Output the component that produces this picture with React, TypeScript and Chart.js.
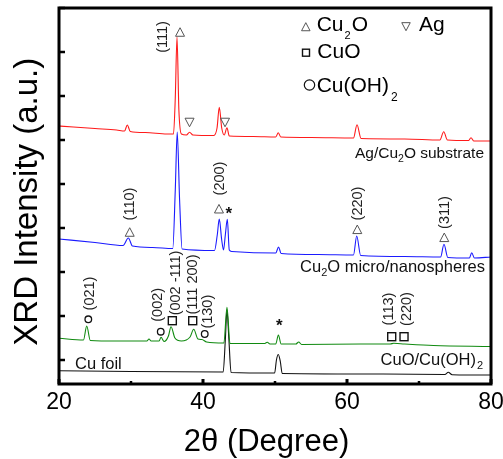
import React, { useEffect, useRef } from 'react';
import { Chart, registerables } from 'chart.js';

Chart.register(...registerables);

const FONT = "'Liberation Sans', Arial, Helvetica, sans-serif";

// ---------- data (2θ in degrees, intensity in arbitrary units) ----------
const agTheta = [20, 22, 25, 28, 29.1, 29.49, 29.9, 32, 35, 35.9, 36.15, 36.39, 36.65, 37.0, 37.7, 38.13, 38.6, 41.5, 41.95, 42.26, 42.6, 42.95, 43.33, 43.65, 47, 50.1, 50.46, 50.8, 55, 60.9, 61.39, 61.95, 68, 72.9, 73.43, 73.95, 76.9, 77.22, 77.6, 80];
const agCounts = [234, 233, 231.5, 230, 229, 235, 228.5, 227.5, 226, 226, 262, 323, 250, 226, 225, 227.7, 225, 224.5, 232, 252.7, 232, 225, 232.3, 224, 223.5, 223, 227.3, 223, 222.5, 222, 235.3, 221.5, 221, 220, 228.3, 220, 219.5, 222.3, 219, 219];

const cu2oTheta = [20, 25, 28.9, 29.63, 30.2, 33, 35.8, 36.15, 36.42, 36.75, 37.1, 41.6, 41.98, 42.26, 42.6, 42.85, 43.1, 43.38, 43.65, 44, 50.1, 50.5, 50.85, 56, 60.9, 61.35, 61.9, 68, 73.0, 73.47, 74.0, 77.0, 77.32, 77.7, 80];
const cu2oCounts = [121, 117.5, 114.5, 122, 114, 112.5, 111.5, 170, 228, 160, 111, 109.5, 125, 141, 120, 110, 125, 140.7, 110, 108.5, 107, 113, 106.5, 105.5, 105, 124, 104.5, 103.5, 103, 115.7, 102.5, 102, 107.3, 102, 103];

const cuoTheta = [20, 23.4, 23.85, 24.35, 28, 32.2, 32.5, 32.8, 33.9, 34.17, 34.6, 35.2, 35.56, 36.1, 37.0, 38.2, 38.71, 39.3, 39.85, 40.5, 42.9, 43.33, 43.75, 48.5, 48.93, 49.3, 50.1, 50.47, 50.85, 52.9, 53.29, 53.7, 61.9, 66, 66.5, 68, 72, 80];
const cuoCounts = [21.7, 20, 34, 19.5, 19, 19, 21, 19, 19, 22.7, 18.5, 24, 33.3, 22, 19, 23, 30.7, 21, 20.5, 18, 17, 52.7, 16.5, 16.5, 17.7, 16, 16, 25, 16, 16, 18, 15.5, 16, 16, 16.7, 16, 14.5, 13.5];

const foilTheta = [20, 30, 42.8, 43.1, 43.33, 43.6, 43.9, 49.95, 50.2, 50.46, 50.75, 51.0, 65, 73.6, 74.07, 74.6, 80];
const foilCounts = [-10.7, -11.5, -12, 20, 50, 20, -12.5, -13, 0, 5.5, -2, -13.5, -14, -14.5, -12.3, -14.7, -15];

// ---------- axes ----------
const xMin = 20;
const xMax = 80;
const xTickLabels = [20, 40, 60, 80];
const xMinorTicks = [30, 50, 70];
const yMin = -24;
const yMax = 352;
const yTickValues = [0, 44, 88, 132, 176, 220, 264, 308, 352];

// ---------- annotations (positioned in data coordinates) ----------
const peakLabels = [
  { text: '(111)', theta: 34.4, level: 323 },
  { text: '(110)', theta: 29.86, level: 156 },
  { text: '(200)', theta: 42.36, level: 181.5 },
  { text: '(220)', theta: 61.57, level: 156.5 },
  { text: '(311)', theta: 73.61, level: 147.5 },
  { text: '(021)', theta: 24.31, level: 66.5 },
  { text: '(002)', theta: 33.79, level: 55.2 },
  { text: '(002 -111)', theta: 36.25, level: 77 },
  { text: '(111 200)', theta: 38.65, level: 75.5 },
  { text: '(130)', theta: 40.74, level: 48.3 },
  { text: '(113)', theta: 65.88, level: 51 },
  { text: '(220)', theta: 68.38, level: 51 },
];
const phaseMarks = [
  { kind: 'up', theta: 36.81, level: 328 },
  { kind: 'down', theta: 38.13, level: 237.5 },
  { kind: 'down', theta: 43.06, level: 237.5 },
  { kind: 'up', theta: 29.82, level: 128 },
  { kind: 'up', theta: 42.22, level: 151.3 },
  { kind: 'star', theta: 43.57, level: 148.3 },
  { kind: 'up', theta: 61.43, level: 130.7 },
  { kind: 'up', theta: 73.51, level: 122.7 },
  { kind: 'circle', theta: 24.07, level: 40.7 },
  { kind: 'circle', theta: 34.13, level: 28.3 },
  { kind: 'square', theta: 35.74, level: 39.3 },
  { kind: 'square', theta: 38.57, level: 39.3 },
  { kind: 'circle', theta: 40.24, level: 26 },
  { kind: 'star', theta: 50.6, level: 36.7 },
  { kind: 'square', theta: 66.21, level: 23.3 },
  { kind: 'square', theta: 67.92, level: 23.3 },
];

type Part = { t: string; sub?: boolean };

function drawRich(ctx: CanvasRenderingContext2D, parts: Part[], x: number, y: number, size: number, subSize: number, subDrop: number, align: 'left' | 'right', gap = 0) {
  const fontFor = (p: Part) => `${p.sub ? subSize : size}px ${FONT}`;
  const widths = parts.map((p) => {
    ctx.font = fontFor(p);
    return ctx.measureText(p.t).width + (p.sub ? gap * 2 : 0);
  });
  const total = widths.reduce((a, b) => a + b, 0);
  let cx = align === 'left' ? x : x - total;
  ctx.textAlign = 'left';
  ctx.textBaseline = 'alphabetic';
  parts.forEach((p, i) => {
    ctx.font = fontFor(p);
    ctx.fillText(p.t, cx + (p.sub ? gap : 0), p.sub ? y + subDrop : y);
    cx += widths[i];
  });
}

function tri(ctx: CanvasRenderingContext2D, cx: number, cy: number, s: number, up: boolean) {
  const h = s * 0.95;
  ctx.beginPath();
  if (up) {
    ctx.moveTo(cx, cy - h / 2);
    ctx.lineTo(cx - s / 2, cy + h / 2);
    ctx.lineTo(cx + s / 2, cy + h / 2);
  } else {
    ctx.moveTo(cx, cy + h / 2);
    ctx.lineTo(cx - s / 2, cy - h / 2);
    ctx.lineTo(cx + s / 2, cy - h / 2);
  }
  ctx.closePath();
  ctx.stroke();
}

const annoPlugin = {
  id: 'xrdAnno',
  afterDatasetsDraw(chart: any) {
    const { ctx, chartArea: a, scales } = chart;
    const xs = scales.x;
    const ys = scales.y;
    ctx.save();

    // frame
    ctx.strokeStyle = '#000';
    ctx.lineWidth = 3;
    ctx.strokeRect(a.left, a.top, a.right - a.left, a.bottom - a.top);

    // inward ticks
    ctx.lineWidth = 2.5;
    ctx.beginPath();
    yTickValues.forEach((v) => {
      const py = ys.getPixelForValue(v);
      ctx.moveTo(a.left, py);
      ctx.lineTo(a.left + 6, py);
    });
    ctx.stroke();
    ctx.lineWidth = 3;
    ctx.beginPath();
    xTickLabels.forEach((v) => {
      const px = xs.getPixelForValue(v);
      ctx.moveTo(px, a.bottom);
      ctx.lineTo(px, a.bottom - 5);
    });
    ctx.stroke();
    ctx.lineWidth = 2.5;
    ctx.beginPath();
    xMinorTicks.forEach((v) => {
      const px = xs.getPixelForValue(v);
      ctx.moveTo(px, a.bottom);
      ctx.lineTo(px, a.bottom - 3);
    });
    ctx.stroke();

    // peak labels (rotated)
    ctx.fillStyle = '#222';
    ctx.font = `14.5px ${FONT}`;
    ctx.textAlign = 'center';
    ctx.textBaseline = 'middle';
    peakLabels.forEach((l) => {
      ctx.save();
      ctx.translate(xs.getPixelForValue(l.theta), ys.getPixelForValue(l.level));
      ctx.rotate(-Math.PI / 2);
      ctx.fillText(l.text, 0, 0);
      ctx.restore();
    });

    // phase markers
    phaseMarks.forEach((m) => {
      const px = xs.getPixelForValue(m.theta);
      const py = ys.getPixelForValue(m.level);
      if (m.kind === 'up' || m.kind === 'down') {
        ctx.strokeStyle = '#555';
        ctx.lineWidth = 1;
        tri(ctx, px, py, 9, m.kind === 'up');
      } else if (m.kind === 'square') {
        ctx.strokeStyle = '#111';
        ctx.lineWidth = 1.4;
        ctx.strokeRect(px - 4, py - 4, 8, 8);
      } else if (m.kind === 'circle') {
        ctx.strokeStyle = '#111';
        ctx.lineWidth = 1.3;
        ctx.beginPath();
        ctx.arc(px, py, 3.3, 0, Math.PI * 2);
        ctx.stroke();
      } else if (m.kind === 'star') {
        ctx.fillStyle = '#111';
        ctx.font = `bold 17px ${FONT}`;
        ctx.textAlign = 'center';
        ctx.textBaseline = 'middle';
        ctx.fillText('*', px, py + 3);
      }
    });

    // sample labels
    ctx.fillStyle = '#111';
    drawRich(ctx, [{ t: 'Ag/Cu' }, { t: '2', sub: true }, { t: 'O substrate' }], 484, 158, 15.5, 10.5, 4, 'right');
    drawRich(ctx, [{ t: 'Cu' }, { t: '2', sub: true }, { t: 'O micro/nanospheres' }], 485, 271.5, 16.5, 11, 4, 'right');
    drawRich(ctx, [{ t: 'CuO/Cu(OH)' }, { t: '2', sub: true }], 484, 365, 16.5, 11, 4, 'right', 1);
    drawRich(ctx, [{ t: 'Cu foil' }], 75, 369, 16.5, 11, 4, 'left');

    // phase legend
    ctx.strokeStyle = '#555';
    ctx.lineWidth = 1;
    tri(ctx, 305.8, 26.7, 8.5, true);
    tri(ctx, 406, 26.7, 8.5, false);
    ctx.fillStyle = '#000';
    drawRich(ctx, [{ t: 'Cu' }, { t: '2', sub: true }, { t: 'O' }], 316.7, 30.7, 21, 11, 8.5, 'left', 1);
    drawRich(ctx, [{ t: 'Ag' }], 419, 30.7, 21, 11, 8, 'left');
    ctx.strokeStyle = '#111';
    ctx.lineWidth = 1.4;
    ctx.strokeRect(302.5, 49.2, 7, 7);
    drawRich(ctx, [{ t: 'CuO' }], 317.3, 58.3, 21, 11, 8, 'left');
    ctx.lineWidth = 1.2;
    ctx.beginPath();
    ctx.arc(309.5, 85, 5.2, 0, Math.PI * 2);
    ctx.stroke();
    drawRich(ctx, [{ t: 'Cu(OH)' }, { t: '2', sub: true }], 316.7, 91.7, 21, 12, 9, 'left', 2);

    // axis titles
    ctx.fillStyle = '#000';
    ctx.save();
    ctx.translate(36.5, 201.7);
    ctx.rotate(-Math.PI / 2);
    ctx.font = `33px ${FONT}`;
    ctx.textAlign = 'center';
    ctx.textBaseline = 'alphabetic';
    ctx.fillText('XRD Intensity (a.u.)', 0, 0);
    ctx.restore();

    ctx.font = `31px ${FONT}`;
    ctx.textAlign = 'center';
    ctx.textBaseline = 'alphabetic';
    ctx.fillText('2\u03B8 (Degree)', 266.5, 450.7);

    ctx.restore();
  },
};

function toPoints(t: number[], c: number[]) {
  return t.map((x, i) => ({ x, y: c[i] }));
}

export default function App() {
  const ref = useRef<HTMLCanvasElement | null>(null);

  useEffect(() => {
    document.body.style.margin = '0';
    if (!ref.current) return;
    const chart = new Chart(ref.current, {
      type: 'line',
      data: {
        datasets: [
          { label: 'Ag/Cu2O substrate', data: toPoints(agTheta, agCounts), borderColor: '#ff1a1a' },
          { label: 'Cu2O micro/nanospheres', data: toPoints(cu2oTheta, cu2oCounts), borderColor: '#1a1aff' },
          { label: 'CuO/Cu(OH)2', data: toPoints(cuoTheta, cuoCounts), borderColor: '#108a10' },
          { label: 'Cu foil', data: toPoints(foilTheta, foilCounts), borderColor: '#111111' },
        ],
      },
      options: {
        animation: false,
        responsive: true,
        maintainAspectRatio: false,
        layout: { padding: { top: 8, right: 12, left: 0, bottom: 0 } },
        elements: {
          point: { radius: 0 },
          line: { borderWidth: 1.1, cubicInterpolationMode: 'monotone' },
        },
        plugins: { legend: { display: false }, tooltip: { enabled: false }, title: { display: false } },
        scales: {
          x: {
            type: 'linear',
            min: xMin,
            max: xMax,
            grid: { display: false, drawTicks: false },
            border: { display: false },
            afterBuildTicks: (s: any) => {
              s.ticks = xTickLabels.map((v) => ({ value: v }));
            },
            ticks: { color: '#000', font: { size: 23, family: FONT }, padding: 5, maxRotation: 0, autoSkip: false },
            afterFit: (s: any) => {
              s.height = 75;
              s.paddingLeft = 0;
              s.paddingRight = 0;
            },
          },
          y: {
            type: 'linear',
            min: yMin,
            max: yMax,
            grid: { display: false, drawTicks: false },
            border: { display: false },
            afterBuildTicks: (s: any) => {
              s.ticks = yTickValues.map((v) => ({ value: v }));
            },
            ticks: { display: false },
            afterFit: (s: any) => {
              s.width = 59;
            },
          },
        },
      },
      plugins: [annoPlugin],
    });
    return () => chart.destroy();
  }, []);

  return (
    <div style={{ position: 'relative', width: 503, height: 459, background: '#fff' }}>
      <canvas ref={ref} />
    </div>
  );
}
